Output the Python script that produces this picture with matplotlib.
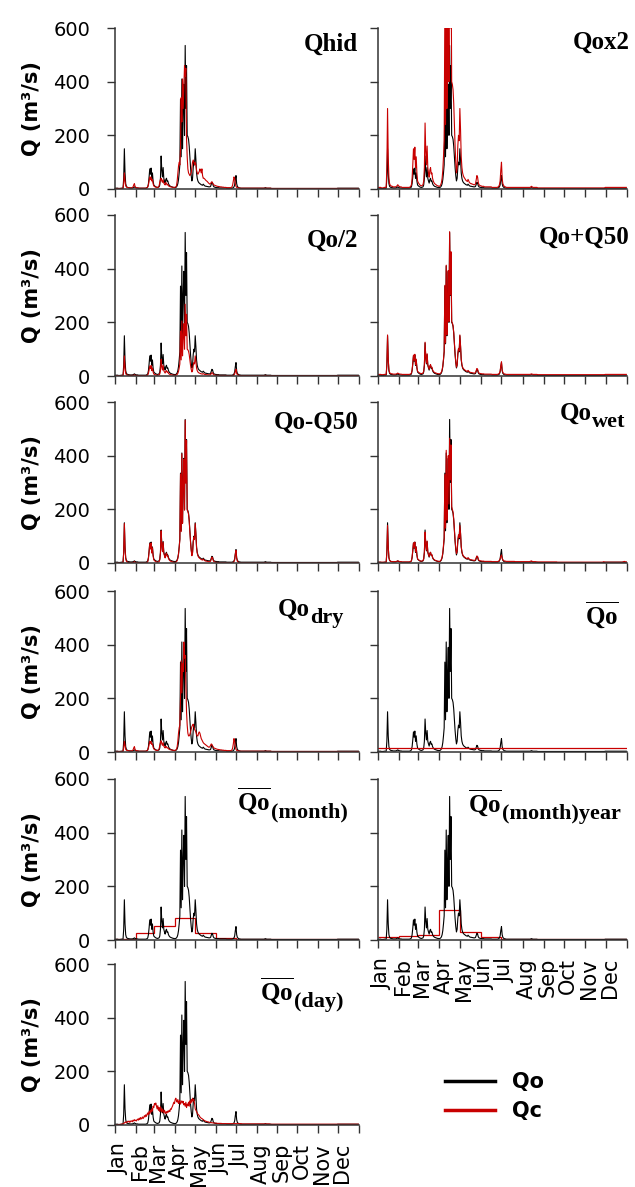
import numpy as np
import matplotlib
matplotlib.use("Agg")
import matplotlib.pyplot as plt
from matplotlib.lines import Line2D
from matplotlib.transforms import offset_copy

plt.rcParams['font.family'] = ['DejaVu Sans']
plt.rcParams['mathtext.fontset'] = 'custom'
plt.rcParams['mathtext.rm'] = 'Liberation Serif:bold'
plt.rcParams['mathtext.it'] = 'Liberation Serif:bold'
plt.rcParams['mathtext.bf'] = 'Liberation Serif:bold'

# ---------------- data ----------------
months = ['Jan', 'Feb', 'Mar', 'Apr', 'May', 'Jun', 'Jul', 'Aug', 'Sep', 'Oct', 'Nov', 'Dec']
month_days = [31, 28, 31, 30, 31, 30, 31, 31, 30, 31, 30, 31]
y_ticks = [0, 200, 400, 600]
y_max = 600

# observed daily discharge Qo (m3/s), one value per day
qo = [
    3,3,3,3,3, 2,2,2,2,3, 3,3,3,40,150, 60,20,10,7,6, 5,5,4,4,4, 4,4,5,6,8, 6,
    5,4,4,4,3, 3,3,3,3,3, 3,3,3,3,3, 3,4,5,8,20, 45,75,55,78,40, 60,30,15,
    12,10,8,7,6, 6,7,8,15,40, 123,70,45,80,40, 30,22,35,40,28, 30,20,15,12,10, 9,8,7,6,6, 5,
    5,6,8,12,20, 35,60,90,335,120, 410,150,300,390,200, 535,300,460,200,195, 185,160,120,80,50, 30,40,80,100,90,
    150,110,60,40,30, 25,22,20,18,16, 15,14,18,15,12, 11,10,10,9,9, 8,8,8,10,18, 25,22,12,8,7, 6,
    6,5,5,5,5, 4,4,4,4,4, 4,4,4,4,4, 4,3,3,3,3, 3,3,3,3,3, 4,5,8,15,35,
    50,20,10,7,5, 4,4,3,3,3, 3,3,3,3,3, 3,3,3,3,3, 3,3,3,3,3, 3,3,3,3,3, 3,
    3,3,3,3,3, 3,3,3,3,3, 3,3,4,5,4, 3,3,3,3,3, 3,3,2,2,2, 2,2,2,2,2, 2,
    2,2,2,2,2, 2,2,2,2,2, 2,2,2,2,2, 2,2,2,2,2, 2,2,2,2,2, 2,2,2,2,2,
    2,2,2,2,2, 2,2,2,2,2, 2,2,2,2,2, 2,2,2,2,2, 2,2,2,2,2, 2,2,2,2,2, 2,
    2,2,2,2,2, 2,2,2,2,2, 2,2,2,2,2, 2,2,2,2,2, 2,2,2,2,2, 2,2,2,2,3,
    3,3,3,3,3, 3,3,3,3,3, 3,3,3,3,3, 3,3,3,3,3, 3,3,3,3,3, 3,3,3,3,3, 3,
]

# simulated discharge Qc for the hydrological-model scenario
qc_hid = [
    2,2,2,2,2, 2,2,2,2,2, 2,2,3,20,60, 30,12,8,6,5, 5,4,4,4,4, 4,5,8,15,20, 10,
    6,5,4,4,4, 3,3,3,3,3, 3,3,3,3,3, 3,4,5,8,15, 30,45,35,45,30, 35,20,12,
    9,8,7,6,6, 6,8,12,25,35, 40,30,25,35,22, 18,15,25,20,15, 18,12,10,9,8, 8,7,7,6,6, 6,
    7,8,12,30,60, 85,100,90,150,340, 250,410,300,380,460, 420,450,190,120,75, 60,55,50,55,60, 80,100,108,100,90,
    100,90,70,60,55, 60,65,75,70,60, 75,50,40,40,38, 35,32,30,28,25, 22,20,18,20,25, 27,22,18,15,14, 13,
    12,11,10,10,9, 9,8,8,8,7, 7,7,6,6,6, 6,5,5,5,5, 5,5,5,6,8, 15,30,45,40,20,
    10,6,5,4,4, 4,3,3,3,3, 3,3,3,3,3, 3,3,3,3,3, 3,3,3,3,3, 3,3,3,3,3, 3,
    3,3,3,3,3, 3,3,3,3,3, 3,3,3,3,3, 3,3,3,3,3, 3,3,2,2,2, 2,2,2,2,2, 2,
    2,2,2,2,2, 2,2,2,2,2, 2,2,2,2,2, 2,2,2,2,2, 2,2,2,2,2, 2,2,2,2,2,
    2,2,2,2,2, 2,2,2,2,2, 2,2,2,2,2, 2,2,2,2,2, 2,2,2,2,2, 2,2,2,2,2, 2,
    2,2,2,2,2, 2,2,2,2,2, 2,2,2,2,2, 2,2,2,2,2, 2,2,2,2,2, 2,2,2,2,2,
    2,2,2,2,2, 2,2,2,2,2, 2,2,2,2,2, 2,2,2,2,2, 2,2,2,2,2, 2,2,2,2,2, 2,
]

# simulated discharge Qc for the wet-year scenario
qc_wet = [
    3,3,3,3,3, 3,3,3,3,3, 3,3,3,40,140, 60,20,10,7,6, 5,5,5,5,5, 5,5,6,7,8, 7,
    6,5,5,5,4, 4,4,4,4,4, 4,4,4,4,4, 4,5,6,9,22, 48,75,58,78,42, 60,32,16,
    13,11,9,8,7, 7,8,9,16,42, 115,72,48,82,42, 32,24,36,40,29, 31,21,16,13,11, 10,9,8,7,7, 6,
    6,7,9,14,22, 38,65,95,330,130, 420,160,310,400,220, 465,310,440,210,200, 190,165,125,85,55, 35,45,85,105,95,
    140,110,62,42,32, 27,24,22,20,18, 17,16,20,17,14, 13,12,12,11,11, 10,10,10,12,20, 26,24,14,10,9, 8,
    8,7,7,7,7, 6,6,6,6,6, 6,6,6,6,6, 6,5,5,5,5, 5,5,5,5,5, 6,7,10,15,25,
    30,18,12,9,8, 7,7,6,6,6, 6,6,6,6,6, 6,6,6,6,6, 5,5,5,5,5, 5,5,5,5,5, 5,
    5,5,5,5,5, 5,5,5,5,5, 5,6,7,8,6, 5,5,5,5,5, 4,4,4,4,4, 4,4,4,4,4, 4,
    4,4,4,4,4, 4,4,4,4,4, 4,4,4,4,4, 4,4,4,4,4, 3,3,3,3,3, 3,3,3,3,3,
    3,3,3,3,3, 3,3,3,3,3, 3,3,3,3,3, 3,3,3,3,3, 3,3,3,3,3, 3,3,3,3,3, 3,
    3,3,3,3,3, 3,3,3,3,3, 3,3,3,3,3, 3,3,3,3,3, 3,3,3,3,3, 3,4,5,4,3,
    3,3,3,3,3, 3,3,3,3,3, 3,3,3,3,3, 3,3,3,3,3, 3,3,3,3,3, 4,5,6,5,4, 4,
]

# simulated discharge Qc for the dry-year scenario
qc_dry = [
    2,2,2,2,2, 2,2,2,2,2, 2,2,3,15,40, 25,10,7,6,5, 5,4,4,4,4, 4,5,8,15,20, 10,
    6,5,4,4,4, 3,3,3,3,3, 3,3,3,3,3, 3,4,5,8,15, 28,40,32,40,28, 30,18,12,
    9,8,7,6,6, 6,8,12,25,35, 42,30,25,35,22, 18,15,22,18,15, 16,12,10,9,8, 8,7,7,6,6, 6,
    6,8,10,20,40, 70,90,100,200,340, 220,330,300,410,350, 360,250,150,100,70, 60,60,65,75,85, 95,100,104,95,85,
    80,75,65,60,60, 70,75,70,60,50, 45,40,35,32,30, 28,26,24,22,20, 18,18,20,25,30, 28,22,18,15,14, 13,
    12,11,10,10,9, 9,8,8,8,7, 7,7,6,6,6, 6,5,5,5,5, 5,5,5,6,8, 15,30,50,40,20,
    10,6,5,4,4, 4,3,3,3,3, 3,3,3,3,3, 3,3,3,3,3, 3,3,3,3,3, 3,3,3,3,3, 3,
    3,3,3,3,3, 3,3,3,3,3, 3,3,3,3,3, 3,3,3,3,3, 3,3,2,2,2, 2,2,2,2,2, 2,
    2,2,2,2,2, 2,2,2,2,2, 2,2,2,2,2, 2,2,2,2,2, 2,2,2,2,2, 2,2,2,2,2,
    2,2,2,2,2, 2,2,2,2,2, 2,2,2,2,2, 2,2,2,2,2, 2,2,2,2,2, 2,2,2,2,2, 2,
    2,2,2,2,2, 2,2,2,2,2, 2,2,2,2,2, 2,2,2,2,2, 2,2,2,2,2, 2,2,2,2,2,
    2,2,2,2,2, 2,2,2,2,2, 2,2,2,2,2, 2,2,2,2,2, 2,2,2,2,2, 2,2,2,2,2, 2,
]

# simulated discharge Qc driven by the mean daily hydrograph
qc_day = [
    0,0,1,1,1, 1,2,2,2,3, 3,4,4,5,8, 10,12,8,10,14, 12,15,10,12,16, 14,12,18,15,20, 16,
    18,15,20,22,18, 25,20,28,22,25, 30,24,28,35,30, 38,32,40,45,38, 50,42,55,48,60, 52,70,65,
    80,75,82,70,60, 72,55,65,50,68, 58,48,60,52,45, 55,48,42,50,45, 52,48,55,50,60, 58,65,70,78,85, 80,
    95,100,90,85,95, 80,88,92,78,85, 90,82,88,75,80, 70,85,65,78,72, 85,70,90,80,95, 85,100,90,95,80,
    60,55,50,45,40, 38,35,30,28,25, 24,22,20,18,16, 15,14,13,12,12, 11,10,10,9,9, 8,8,8,7,7, 7,
    7,7,6,6,6, 6,6,6,6,5, 5,5,5,5,5, 5,5,5,5,5, 5,5,5,5,5, 5,5,5,5,5,
    5,5,5,5,5, 5,5,5,5,4, 4,4,4,4,4, 4,4,4,4,4, 4,4,4,4,4, 4,4,4,4,4, 4,
    4,4,4,4,4, 4,4,4,4,4, 4,4,4,4,4, 4,4,4,4,4, 3,3,3,3,3, 3,3,3,3,3, 3,
    3,3,3,3,3, 3,3,3,3,3, 3,3,3,3,3, 3,3,3,3,3, 3,3,3,3,3, 3,3,3,3,3,
    3,3,3,3,3, 3,3,3,3,3, 3,3,3,3,3, 3,3,3,3,3, 3,3,3,3,3, 3,3,3,3,3, 3,
    3,3,3,3,3, 3,3,3,3,3, 3,3,3,3,3, 3,3,3,3,3, 3,3,3,3,3, 3,3,3,3,3,
    3,3,3,3,3, 3,3,3,3,3, 3,3,3,3,3, 3,3,3,3,3, 3,3,3,3,3, 3,3,3,3,3, 3,
]

# scenario parameters
factor_up = 2.0        # Qo x 2
factor_down = 0.5      # Qo / 2
q50 = 3.0              # median flow Q50 (m3/s)
qo_mean = 14.0         # long-term mean flow (m3/s)
qc_month = [4, 25, 53, 81, 25, 6, 3, 2, 2, 2, 2, 3]          # monthly means
qc_month_year = [10, 14, 18, 110, 28, 10, 3, 2, 2, 2, 2, 3]  # monthly means per year

for s in (qo, qc_hid, qc_wet, qc_dry, qc_day):
    assert len(s) == sum(month_days), len(s)

# ---------------- figure ----------------
W, H = 635, 1187
DPI = 100
fig = plt.figure(figsize=(W / DPI, H / DPI), dpi=DPI)
renderer = fig.canvas.get_renderer()

RED = '#c80000'
SPINE = '#333333'
row_top = [28, 215, 402, 591, 779, 964]
ax_h = 161
col_x = [(115, 244), (378, 249)]

edges = np.concatenate([[0], np.cumsum(month_days)])
days = np.arange(edges[-1])
qo_arr = np.array(qo, dtype=float)

panels = [
    # row, col, main, sub, overline, kind, red data, title dx, title baseline, xlabels
    (0, 0, 'Qhid', None, False, 'daily', np.array(qc_hid, float), -1, 23, False),
    (0, 1, 'Qox2', None, False, 'daily', qo_arr * factor_up, 3, 21, False),
    (1, 0, 'Qo/2', None, False, 'daily', qo_arr * factor_down, -1, 32, False),
    (1, 1, 'Qo+Q50', None, False, 'daily', qo_arr + q50, 3, 29, False),
    (2, 0, 'Qo-Q50', None, False, 'daily', np.clip(qo_arr - q50, 0, None), -1, 27, False),
    (2, 1, 'Qo', 'wet', False, 'daily', np.array(qc_wet, float), -2, 18, False),
    (3, 0, 'Qo', 'dry', False, 'daily', np.array(qc_dry, float), -16, 25, False),
    (3, 1, 'Qo', None, True, 'const', qo_mean, -8, 33, False),
    (4, 0, 'Qo', '(month)', True, 'steps', qc_month, -11, 31, False),
    (4, 1, 'Qo', '(month)year', True, 'steps', qc_month_year, -6, 33, True),
    (5, 0, 'Qo', '(day)', True, 'daily', np.array(qc_day, float), -16, 36, True),
]

SUB_DROP = 7


def add_title(ax, main, sub, over, dx, dy):
    w = 0
    if sub:
        tsub = ax.text(1, 1, sub,
                       transform=offset_copy(ax.transAxes, fig=fig, x=dx, y=-(dy + SUB_DROP), units='dots'),
                       ha='right', va='baseline', fontsize=16,
                       fontfamily='Liberation Serif', fontweight='bold')
        w = tsub.get_window_extent(renderer).width
    s = r'$\overline{\mathrm{%s}}$' % main if over else main
    ax.text(1, 1, s,
            transform=offset_copy(ax.transAxes, fig=fig, x=dx - w, y=-dy, units='dots'),
            ha='right', va='baseline', fontsize=18,
            fontfamily='Liberation Serif', fontweight='bold')


for (row, col, main, sub, over, kind, red, tdx, tdy, xlab) in panels:
    x0, w = col_x[col]
    top = row_top[row]
    ax = fig.add_axes([x0 / W, 1 - (top + ax_h) / H, w / W, ax_h / H])
    ax.plot(days, qo_arr, color='black', lw=0.8)
    if kind == 'daily':
        ax.plot(days, red, color=RED, lw=0.8)
    elif kind == 'steps':
        ax.stairs(red, edges, color=RED, lw=0.9, baseline=None)
    else:
        ax.axhline(red, color=RED, lw=0.9)
    ax.set_xlim(edges[0], edges[-1])
    ax.set_ylim(0, y_max)
    for sp in ('top', 'right'):
        ax.spines[sp].set_visible(False)
    for sp in ('left', 'bottom'):
        ax.spines[sp].set_color(SPINE)
        ax.spines[sp].set_linewidth(1.1)
    ax.set_xticks(edges)
    ax.set_xticklabels([])
    ax.tick_params(axis='both', which='major', direction='out', length=6,
                   width=1.0, color=SPINE)
    ax.set_yticks(y_ticks)
    if col == 0:
        ax.set_yticklabels([str(v) for v in y_ticks], fontsize=14)
        ax.tick_params(axis='y', pad=12)
        ax.set_ylabel('Q (m³/s)', fontsize=15, fontweight='bold')
        ax.yaxis.set_label_coords((42 - x0) / w, 0.5)
    else:
        ax.set_yticklabels([])
    if xlab:
        ax.set_xticks(edges[:-1] + 6, months, minor=True, rotation=90, fontsize=15)
        ax.tick_params(axis='x', which='minor', length=0, pad=13)
    add_title(ax, main, sub, over, tdx, tdy)

handles = [Line2D([], [], color='black', lw=2.5), Line2D([], [], color=RED, lw=2.5)]
fig.legend(handles, ['Qo', 'Qc'], loc='upper left',
           bbox_to_anchor=(445 / W, 1 - 1072 / H), frameon=False,
           borderpad=0, borderaxespad=0, handlelength=2.4, handletextpad=0.8,
           labelspacing=0.45, prop={'family': 'DejaVu Sans', 'weight': 'bold', 'size': 15})

fig.savefig('out.png', dpi=DPI)
